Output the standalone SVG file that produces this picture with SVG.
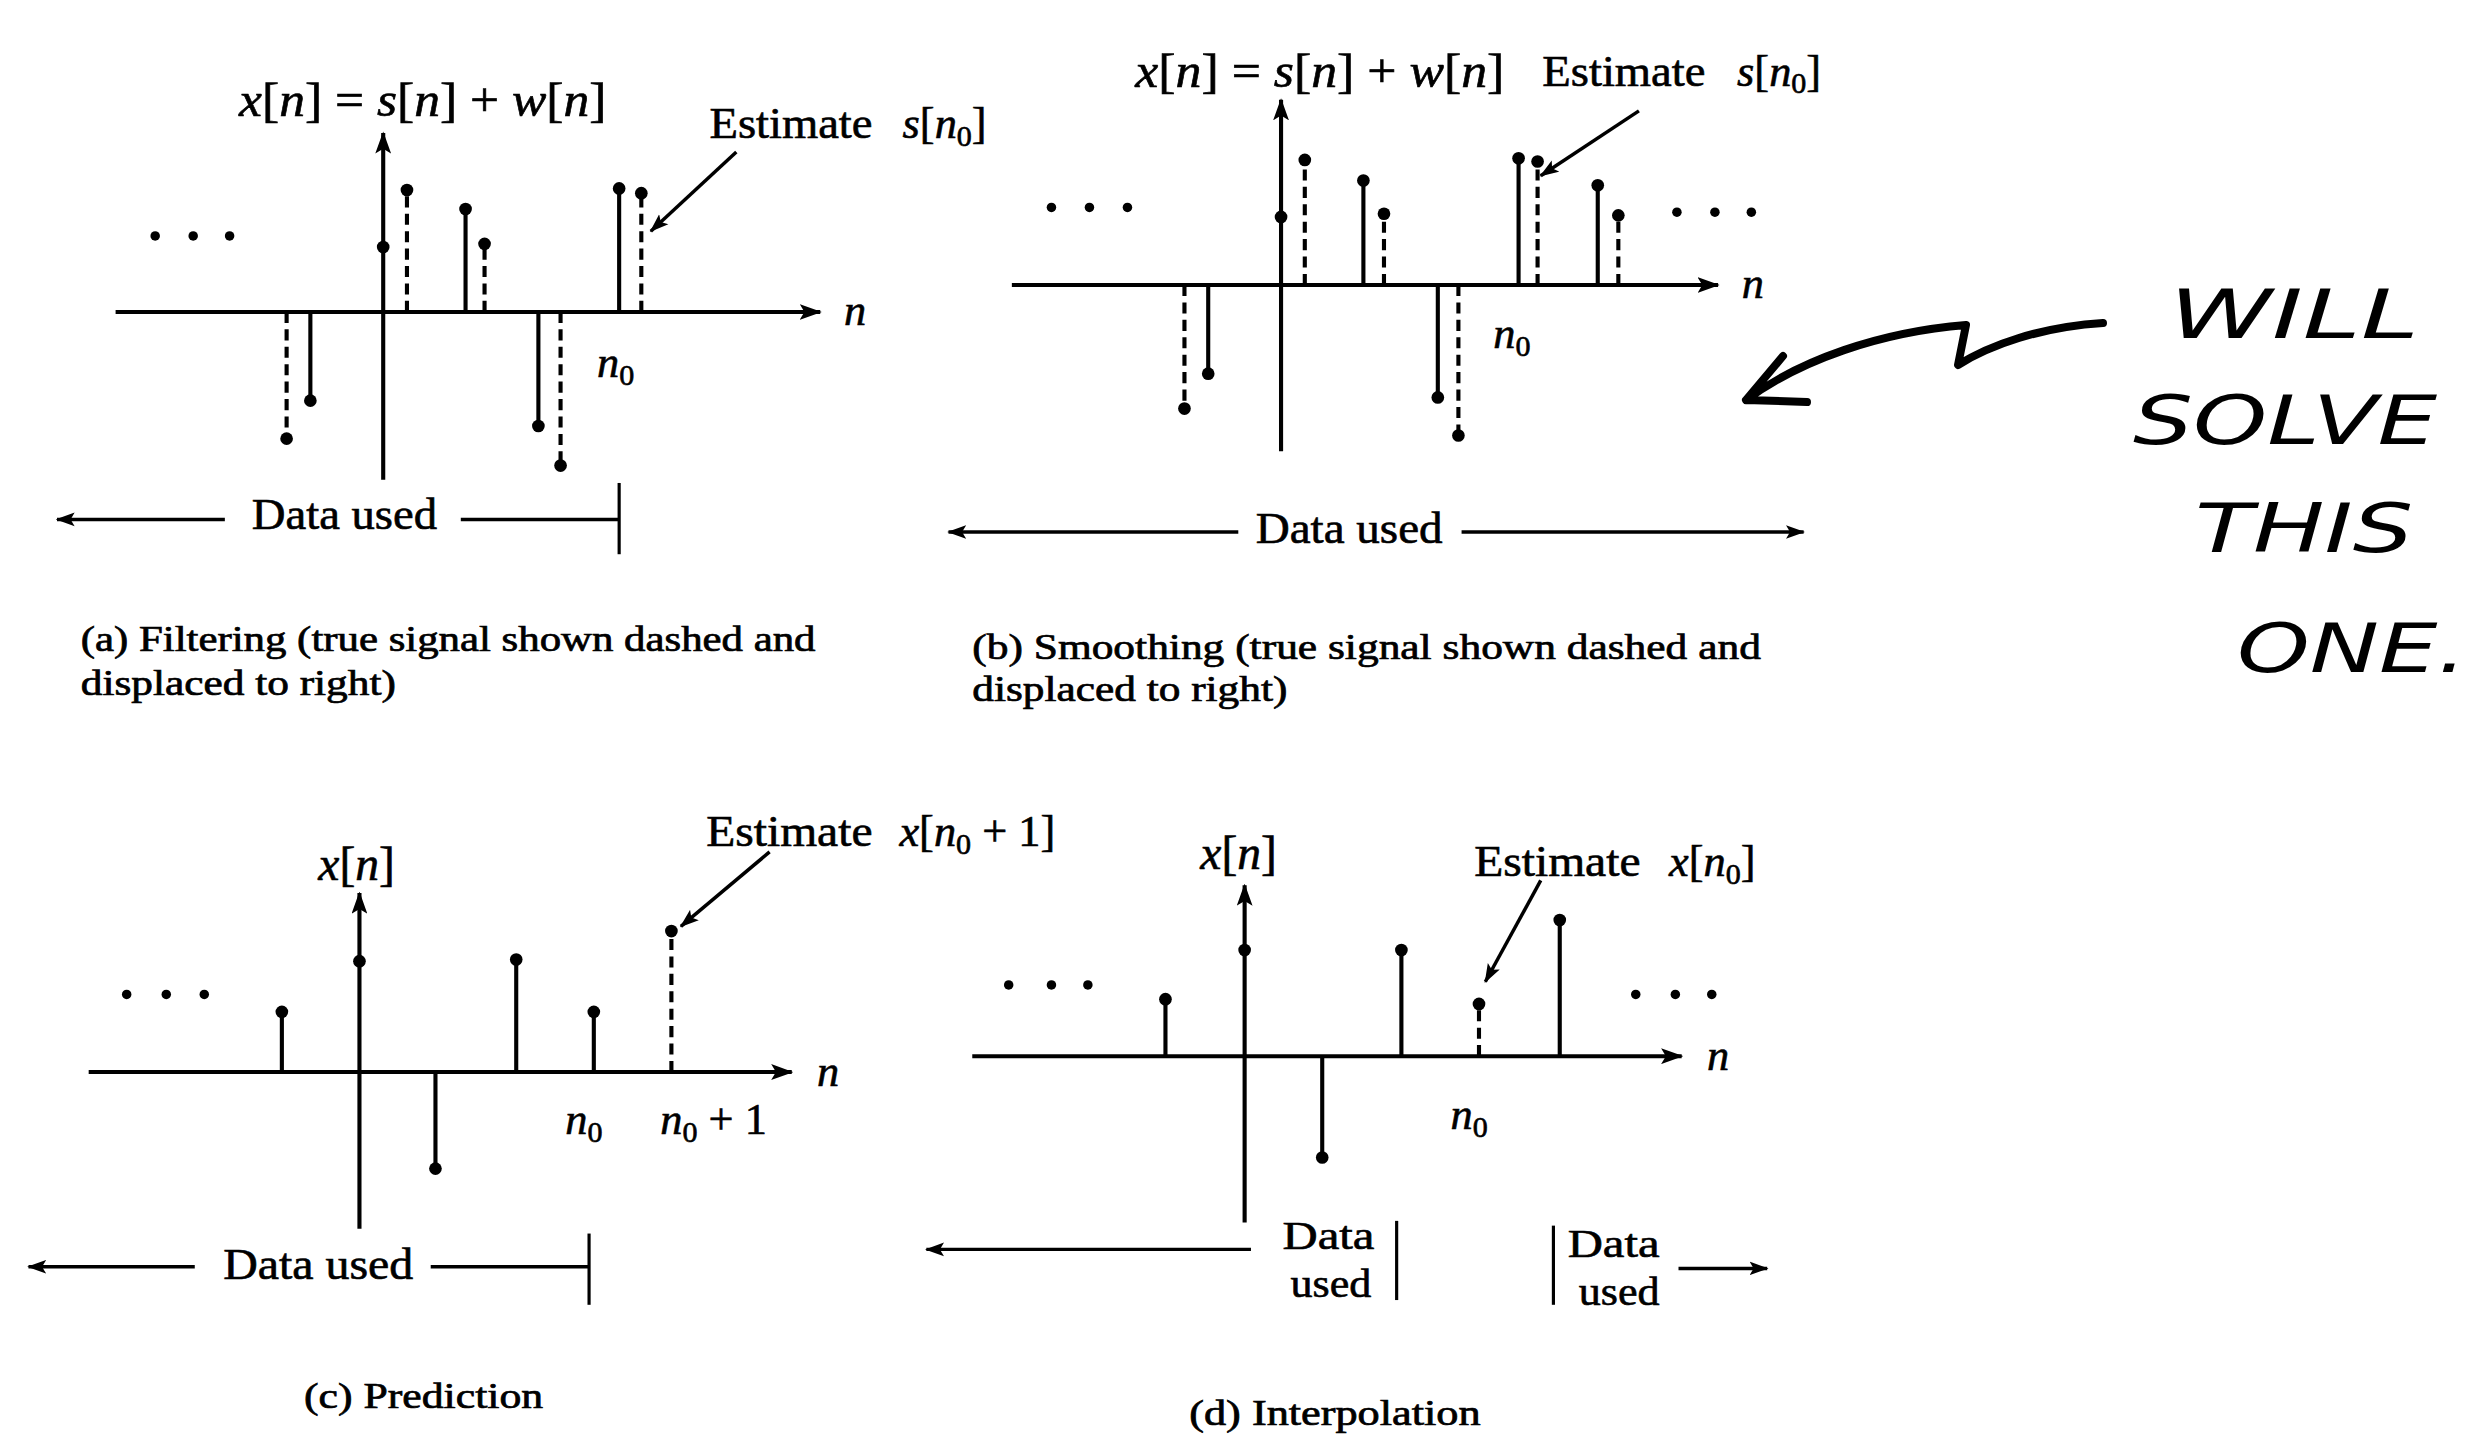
<svg xmlns="http://www.w3.org/2000/svg" width="2483" height="1445" viewBox="0 0 2483 1445">
<style>
text{font-family:"Liberation Serif","Times New Roman",serif;fill:#000}
.lbl{font-size:28px;stroke:#000;stroke-width:0.4}
.du{font-size:25px;stroke:#000;stroke-width:0.4}
.mth{font-size:30px;stroke:#000;stroke-width:0.4}
.cap{font-size:22px;stroke:#000;stroke-width:0.45}
.i{font-style:italic}
.sub{font-size:19px}
.ax{stroke:#000;stroke-width:2.6;fill:none}
.st{stroke:#000;stroke-width:2.6}
.ds{stroke:#000;stroke-width:2.6;stroke-dasharray:7 4}
.dot{fill:#000}
.ln{stroke:#000;stroke-width:2.2;fill:none}
.bar{stroke:#000;stroke-width:2;fill:none}
.hw{font-family:"DejaVu Sans",sans-serif;font-style:italic;font-size:68px}
.hwl{stroke:#000;stroke-width:8;fill:none;stroke-linecap:round;stroke-linejoin:round}
</style>
<defs>
<marker id="ah" viewBox="0 0 14 10" refX="13" refY="5" markerWidth="14" markerHeight="10" markerUnits="userSpaceOnUse" orient="auto"><path d="M0,0 L14,5 L0,10 L3,5 z"/></marker>
<marker id="ah2" viewBox="0 0 14 10" refX="13" refY="5" markerWidth="12" markerHeight="9" markerUnits="userSpaceOnUse" orient="auto"><path d="M0,0 L14,5 L0,10 L3,5 z"/></marker>
</defs>
<rect width="2483" height="1445" fill="#fff"/>
<g transform="scale(1.5835)">
<!-- Panel (a) -->
<g id="panel-a">
<line class="ax" x1="73" y1="197" x2="518" y2="197" marker-end="url(#ah)"/>
<line class="ax" x1="242" y1="303" x2="242" y2="84" marker-end="url(#ah)"/>
<circle class="dot" cx="98" cy="149" r="3"/><circle class="dot" cx="122" cy="149" r="3"/><circle class="dot" cx="145" cy="149" r="3"/>
<line class="ds" x1="181" y1="197" x2="181" y2="277"/><circle class="dot" cx="181" cy="277" r="4"/>
<line class="st" x1="196" y1="197" x2="196" y2="253"/><circle class="dot" cx="196" cy="253" r="4"/>
<circle class="dot" cx="242" cy="156" r="4"/>
<line class="ds" x1="257" y1="197" x2="257" y2="120"/><circle class="dot" cx="257" cy="120" r="4"/>
<line class="st" x1="294" y1="197" x2="294" y2="132"/><circle class="dot" cx="294" cy="132" r="4"/>
<line class="ds" x1="306" y1="197" x2="306" y2="154"/><circle class="dot" cx="306" cy="154" r="4"/>
<line class="st" x1="340" y1="197" x2="340" y2="269"/><circle class="dot" cx="340" cy="269" r="4"/>
<line class="ds" x1="354" y1="197" x2="354" y2="294"/><circle class="dot" cx="354" cy="294" r="4"/>
<line class="st" x1="391" y1="197" x2="391" y2="119"/><circle class="dot" cx="391" cy="119" r="4"/>
<line class="ds" x1="405" y1="197" x2="405" y2="122"/><circle class="dot" cx="405" cy="122" r="4"/>
<text class="lbl i" x="533" y="205">n</text>
<text class="lbl" x="377" y="238"><tspan class="i">n</tspan><tspan class="sub" dy="5">0</tspan></text>
<text class="mth" x="151" y="73" textLength="232" lengthAdjust="spacingAndGlyphs"><tspan class="i">x</tspan>[<tspan class="i">n</tspan>] = <tspan class="i">s</tspan>[<tspan class="i">n</tspan>] + <tspan class="i">w</tspan>[<tspan class="i">n</tspan>]</text>
<text class="lbl" x="448" y="87" textLength="103" lengthAdjust="spacingAndGlyphs">Estimate</text>
<text class="lbl" x="570" y="87"><tspan class="i">s</tspan>[<tspan class="i">n</tspan><tspan class="sub" dy="5">0</tspan><tspan dy="-5">]</tspan></text>
<text class="lbl" x="159" y="334" textLength="117" lengthAdjust="spacingAndGlyphs">Data used</text>
<line class="bar" x1="391" y1="305" x2="391" y2="350"/>
<text class="cap" x="51" y="411" textLength="464" lengthAdjust="spacingAndGlyphs">(a) Filtering (true signal shown dashed and</text>
<text class="cap" x="51" y="439" textLength="199" lengthAdjust="spacingAndGlyphs">displaced to right)</text>
</g>
<!-- Panel (b) -->
<g id="panel-b">
<line class="ax" x1="639" y1="180" x2="1085" y2="180" marker-end="url(#ah)"/>
<line class="ax" x1="809" y1="285" x2="809" y2="63" marker-end="url(#ah)"/>
<circle class="dot" cx="664" cy="131" r="3"/><circle class="dot" cx="688" cy="131" r="3"/><circle class="dot" cx="712" cy="131" r="3"/>
<circle class="dot" cx="1059" cy="134" r="3"/><circle class="dot" cx="1083" cy="134" r="3"/><circle class="dot" cx="1106" cy="134" r="3"/>
<line class="ds" x1="748" y1="180" x2="748" y2="258"/><circle class="dot" cx="748" cy="258" r="4"/>
<line class="st" x1="763" y1="180" x2="763" y2="236"/><circle class="dot" cx="763" cy="236" r="4"/>
<circle class="dot" cx="809" cy="137" r="4"/>
<line class="ds" x1="824" y1="180" x2="824" y2="101"/><circle class="dot" cx="824" cy="101" r="4"/>
<line class="st" x1="861" y1="180" x2="861" y2="114"/><circle class="dot" cx="861" cy="114" r="4"/>
<line class="ds" x1="874" y1="180" x2="874" y2="135"/><circle class="dot" cx="874" cy="135" r="4"/>
<line class="st" x1="908" y1="180" x2="908" y2="251"/><circle class="dot" cx="908" cy="251" r="4"/>
<line class="ds" x1="921" y1="180" x2="921" y2="275"/><circle class="dot" cx="921" cy="275" r="4"/>
<line class="st" x1="959" y1="180" x2="959" y2="100"/><circle class="dot" cx="959" cy="100" r="4"/>
<line class="ds" x1="971" y1="180" x2="971" y2="102"/><circle class="dot" cx="971" cy="102" r="4"/>
<line class="st" x1="1009" y1="180" x2="1009" y2="117"/><circle class="dot" cx="1009" cy="117" r="4"/>
<line class="ds" x1="1022" y1="180" x2="1022" y2="136"/><circle class="dot" cx="1022" cy="136" r="4"/>
<text class="lbl i" x="1100" y="188">n</text>
<text class="lbl" x="943" y="220"><tspan class="i">n</tspan><tspan class="sub" dy="5">0</tspan></text>
<text class="mth" x="717" y="55" textLength="233" lengthAdjust="spacingAndGlyphs"><tspan class="i">x</tspan>[<tspan class="i">n</tspan>] = <tspan class="i">s</tspan>[<tspan class="i">n</tspan>] + <tspan class="i">w</tspan>[<tspan class="i">n</tspan>]</text>
<text class="lbl" x="974" y="54" textLength="103" lengthAdjust="spacingAndGlyphs">Estimate</text>
<text class="lbl" x="1097" y="54"><tspan class="i">s</tspan>[<tspan class="i">n</tspan><tspan class="sub" dy="5">0</tspan><tspan dy="-5">]</tspan></text>
<text class="lbl" x="793" y="343" textLength="118" lengthAdjust="spacingAndGlyphs">Data used</text>
<text class="cap" x="614" y="416" textLength="498" lengthAdjust="spacingAndGlyphs">(b) Smoothing (true signal shown dashed and</text>
<text class="cap" x="614" y="443" textLength="199" lengthAdjust="spacingAndGlyphs">displaced to right)</text>
</g>
<!-- Panel (c) -->
<g id="panel-c">
<line class="ax" x1="56" y1="677" x2="500" y2="677" marker-end="url(#ah)"/>
<line class="ax" x1="227" y1="776" x2="227" y2="564" marker-end="url(#ah)"/>
<circle class="dot" cx="80" cy="628" r="3"/><circle class="dot" cx="105" cy="628" r="3"/><circle class="dot" cx="129" cy="628" r="3"/>
<line class="st" x1="178" y1="677" x2="178" y2="639"/><circle class="dot" cx="178" cy="639" r="4"/>
<circle class="dot" cx="227" cy="607" r="4"/>
<line class="st" x1="275" y1="677" x2="275" y2="738"/><circle class="dot" cx="275" cy="738" r="4"/>
<line class="st" x1="326" y1="677" x2="326" y2="606"/><circle class="dot" cx="326" cy="606" r="4"/>
<line class="st" x1="375" y1="677" x2="375" y2="639"/><circle class="dot" cx="375" cy="639" r="4"/>
<line class="ds" x1="424" y1="677" x2="424" y2="588"/><circle class="dot" cx="424" cy="588" r="4"/>
<text class="lbl i" x="516" y="686">n</text>
<text class="mth" x="201" y="556"><tspan class="i">x</tspan>[<tspan class="i">n</tspan>]</text>
<text class="lbl" x="357" y="716"><tspan class="i">n</tspan><tspan class="sub" dy="5">0</tspan></text>
<text class="lbl" x="417" y="716"><tspan class="i">n</tspan><tspan class="sub" dy="5">0</tspan><tspan dy="-5"> + 1</tspan></text>
<text class="lbl" x="446" y="534" textLength="105" lengthAdjust="spacingAndGlyphs">Estimate</text>
<text class="lbl" x="568" y="534"><tspan class="i">x</tspan>[<tspan class="i">n</tspan><tspan class="sub" dy="5">0</tspan><tspan dy="-5"> + 1]</tspan></text>
<text class="lbl" x="141" y="808" textLength="120" lengthAdjust="spacingAndGlyphs">Data used</text>
<line class="bar" x1="372" y1="779" x2="372" y2="824"/>
<text class="cap" x="192" y="889" textLength="151" lengthAdjust="spacingAndGlyphs">(c) Prediction</text>
</g>
<!-- Panel (d) -->
<g id="panel-d">
<line class="ax" x1="614" y1="667" x2="1062" y2="667" marker-end="url(#ah)"/>
<line class="ax" x1="786" y1="772" x2="786" y2="559" marker-end="url(#ah)"/>
<circle class="dot" cx="637" cy="622" r="3"/><circle class="dot" cx="664" cy="622" r="3"/><circle class="dot" cx="687" cy="622" r="3"/>
<circle class="dot" cx="1033" cy="628" r="3"/><circle class="dot" cx="1058" cy="628" r="3"/><circle class="dot" cx="1081" cy="628" r="3"/>
<line class="st" x1="736" y1="667" x2="736" y2="631"/><circle class="dot" cx="736" cy="631" r="4"/>
<circle class="dot" cx="786" cy="600" r="4"/>
<line class="st" x1="835" y1="667" x2="835" y2="731"/><circle class="dot" cx="835" cy="731" r="4"/>
<line class="st" x1="885" y1="667" x2="885" y2="600"/><circle class="dot" cx="885" cy="600" r="4"/>
<line class="ds" x1="934" y1="667" x2="934" y2="634"/><circle class="dot" cx="934" cy="634" r="4"/>
<line class="st" x1="985" y1="667" x2="985" y2="581"/><circle class="dot" cx="985" cy="581" r="4"/>
<text class="lbl i" x="1078" y="676">n</text>
<text class="mth" x="758" y="549"><tspan class="i">x</tspan>[<tspan class="i">n</tspan>]</text>
<text class="lbl" x="916" y="713"><tspan class="i">n</tspan><tspan class="sub" dy="5">0</tspan></text>
<text class="lbl" x="931" y="553" textLength="105" lengthAdjust="spacingAndGlyphs">Estimate</text>
<text class="lbl" x="1054" y="553"><tspan class="i">x</tspan>[<tspan class="i">n</tspan><tspan class="sub" dy="5">0</tspan><tspan dy="-5">]</tspan></text>
<text class="du" x="810" y="789" textLength="58" lengthAdjust="spacingAndGlyphs">Data</text>
<text class="du" x="815" y="819" textLength="51" lengthAdjust="spacingAndGlyphs">used</text>
<line class="bar" x1="882" y1="771" x2="882" y2="821"/>
<line class="bar" x1="981" y1="774" x2="981" y2="824"/>
<text class="du" x="990" y="794" textLength="58" lengthAdjust="spacingAndGlyphs">Data</text>
<text class="du" x="997" y="824" textLength="51" lengthAdjust="spacingAndGlyphs">used</text>
<text class="cap" x="751" y="900" textLength="184" lengthAdjust="spacingAndGlyphs">(d) Interpolation</text>
</g>
<!-- Connectors -->
<g id="connectors">
<line class="ln" x1="465" y1="96" x2="411" y2="146" marker-end="url(#ah2)"/>
<line class="ln" x1="142" y1="328" x2="36" y2="328" marker-end="url(#ah2)"/>
<line class="ln" x1="291" y1="328" x2="391" y2="328"/>
<line class="ln" x1="1035" y1="70" x2="973" y2="111" marker-end="url(#ah2)"/>
<line class="ln" x1="782" y1="336" x2="599" y2="336" marker-end="url(#ah2)"/>
<line class="ln" x1="923" y1="336" x2="1139" y2="336" marker-end="url(#ah2)"/>
<line class="ln" x1="486" y1="538" x2="430" y2="585" marker-end="url(#ah2)"/>
<line class="ln" x1="123" y1="800" x2="18" y2="800" marker-end="url(#ah2)"/>
<line class="ln" x1="272" y1="800" x2="372" y2="800"/>
<line class="ln" x1="973" y1="556" x2="938" y2="620" marker-end="url(#ah2)"/>
<line class="ln" x1="790" y1="789" x2="585" y2="789" marker-end="url(#ah2)"/>
<line class="ln" x1="1060" y1="801" x2="1116" y2="801" marker-end="url(#ah2)"/>
</g>
</g>
<!-- Handwritten note -->
<g id="note">
<path class="hwl" d="M2103,323 C2040,327 1990,345 1958,365 L1966,325 C1880,332 1800,360 1746,400 M1783,356 L1746,400 L1807,402"/>
<text class="hw" x="2169" y="338" textLength="250" lengthAdjust="spacingAndGlyphs">WILL</text>
<text class="hw" x="2133" y="444" textLength="304" lengthAdjust="spacingAndGlyphs">SOLVE</text>
<text class="hw" x="2195" y="552" textLength="218" lengthAdjust="spacingAndGlyphs">THIS</text>
<text class="hw" x="2237" y="672" textLength="230" lengthAdjust="spacingAndGlyphs">ONE.</text>
</g>
</svg>
